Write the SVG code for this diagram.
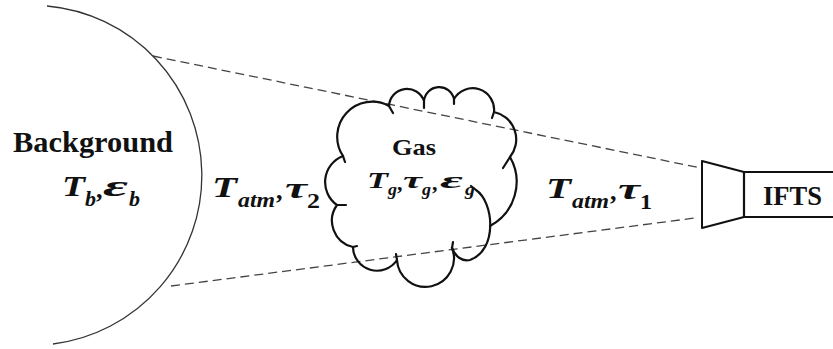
<svg xmlns="http://www.w3.org/2000/svg" width="833" height="349" viewBox="0 0 833 349">
<style>
.dash{stroke:#444;stroke-width:1.3;stroke-dasharray:9 5;fill:none}
.ln{stroke:#111;fill:none;stroke-linecap:round;stroke-linejoin:round}
</style>
<rect width="833" height="349" fill="#fff"/>
<g id="connectors">
<line class="dash" x1="153" y1="56" x2="701" y2="168"/>
<line class="dash" x1="171" y1="286" x2="695" y2="218"/>
</g>
<g id="background">
<path d="M47,6 A170,170 0 0 1 53,344" stroke="#333" stroke-width="1.3" fill="none"/>
<text font-family="Liberation Serif" font-weight="bold" fill="#111" x="13" y="152" font-size="29" textLength="160" lengthAdjust="spacingAndGlyphs">Background</text>
<text font-family="Liberation Serif" font-weight="bold" font-style="italic" fill="#111" x="62" y="196" font-size="29" textLength="23" lengthAdjust="spacingAndGlyphs">T</text>
<text font-family="Liberation Serif" font-weight="bold" font-style="italic" fill="#111" x="85" y="206" font-size="20" textLength="11" lengthAdjust="spacingAndGlyphs">b</text>
<text font-family="Liberation Serif" font-weight="bold" fill="#111" x="96" y="198" font-size="26">,</text>
<text font-family="Liberation Serif" font-weight="bold" font-style="italic" fill="#111" x="103" y="196" font-size="29" textLength="25" lengthAdjust="spacingAndGlyphs">ε</text>
<text font-family="Liberation Serif" font-weight="bold" font-style="italic" fill="#111" x="129" y="206" font-size="20" textLength="11" lengthAdjust="spacingAndGlyphs">b</text>
</g>
<g id="atm-left">
<text font-family="Liberation Serif" font-weight="bold" font-style="italic" fill="#111" x="212" y="197" font-size="29" textLength="25" lengthAdjust="spacingAndGlyphs">T</text>
<text font-family="Liberation Serif" font-weight="bold" font-style="italic" fill="#111" x="238" y="207" font-size="20" textLength="37" lengthAdjust="spacingAndGlyphs">atm</text>
<text font-family="Liberation Serif" font-weight="bold" fill="#111" x="276" y="199" font-size="26">,</text>
<text font-family="Liberation Serif" font-weight="bold" font-style="italic" fill="#111" x="285" y="198" font-size="29" textLength="22" lengthAdjust="spacingAndGlyphs">τ</text>
<text font-family="Liberation Serif" font-weight="bold" fill="#111" x="307" y="208" font-size="21" textLength="13" lengthAdjust="spacingAndGlyphs">2</text>
</g>
<g id="gas">
<path class="ln" stroke-width="2.2" d="M452,248 A28.5,28.5 0 1 1 397,260 A24,24 0 0 1 353,247 A27,27 0 0 1 337,205 A28,28 0 0 1 343,156 A35,35 0 0 1 389,106 A18,18 0 0 1 424,101 A15.2,15.2 0 0 1 454,99 A21.5,21.5 0 0 1 494,112 A28,28 0 0 1 510,157 A50,50 0 0 1 490,226"/>
<path class="ln" stroke-width="2.2" d="M471,186 L476,190 C494,202 498,250 470,260 C462,262 455,256 452,248"/>
<path class="ln" stroke-width="2.2" d="M389,106 L393,113 M424,101 L424,108 M454,99 L454,104 M494,112 L492,118 M510,157 L503,168 M452,248 L453,242 M397,260 L396,254 M353,247 L357,246 M337,205 L346,205 M343,156 L345,162"/>
<text font-family="Liberation Serif" font-weight="bold" fill="#111" x="392" y="155" font-size="24" textLength="44" lengthAdjust="spacingAndGlyphs">Gas</text>
<text font-family="Liberation Serif" font-weight="bold" font-style="italic" fill="#111" x="367" y="188" font-size="24" textLength="21" lengthAdjust="spacingAndGlyphs">T</text>
<text font-family="Liberation Serif" font-weight="bold" font-style="italic" fill="#111" x="388" y="195" font-size="17" textLength="9" lengthAdjust="spacingAndGlyphs">g</text>
<text font-family="Liberation Serif" font-weight="bold" fill="#111" x="397" y="190" font-size="22">,</text>
<text font-family="Liberation Serif" font-weight="bold" font-style="italic" fill="#111" x="403" y="188" font-size="24" textLength="19" lengthAdjust="spacingAndGlyphs">τ</text>
<text font-family="Liberation Serif" font-weight="bold" font-style="italic" fill="#111" x="422" y="195" font-size="17" textLength="9" lengthAdjust="spacingAndGlyphs">g</text>
<text font-family="Liberation Serif" font-weight="bold" fill="#111" x="432" y="190" font-size="22">,</text>
<text font-family="Liberation Serif" font-weight="bold" font-style="italic" fill="#111" x="440" y="188" font-size="24" textLength="23" lengthAdjust="spacingAndGlyphs">ε</text>
<text font-family="Liberation Serif" font-weight="bold" font-style="italic" fill="#111" x="465" y="195" font-size="17" textLength="10" lengthAdjust="spacingAndGlyphs">g</text>
</g>
<g id="atm-right">
<text font-family="Liberation Serif" font-weight="bold" font-style="italic" fill="#111" x="546" y="198" font-size="29" textLength="25" lengthAdjust="spacingAndGlyphs">T</text>
<text font-family="Liberation Serif" font-weight="bold" font-style="italic" fill="#111" x="572" y="208" font-size="20" textLength="37" lengthAdjust="spacingAndGlyphs">atm</text>
<text font-family="Liberation Serif" font-weight="bold" fill="#111" x="610" y="200" font-size="26">,</text>
<text font-family="Liberation Serif" font-weight="bold" font-style="italic" fill="#111" x="618" y="199" font-size="29" textLength="22" lengthAdjust="spacingAndGlyphs">τ</text>
<text font-family="Liberation Serif" font-weight="bold" fill="#111" x="640" y="209" font-size="21" textLength="12" lengthAdjust="spacingAndGlyphs">1</text>
</g>
<g id="ifts">
<polygon class="ln" stroke-width="2" points="702,161 744,172 744,217 702,228"/>
<rect class="ln" stroke-width="2.2" x="744" y="172" width="100" height="45"/>
<text font-family="Liberation Serif" font-weight="bold" fill="#111" x="763" y="205" font-size="27" textLength="59" lengthAdjust="spacingAndGlyphs">IFTS</text>
</g>
</svg>
